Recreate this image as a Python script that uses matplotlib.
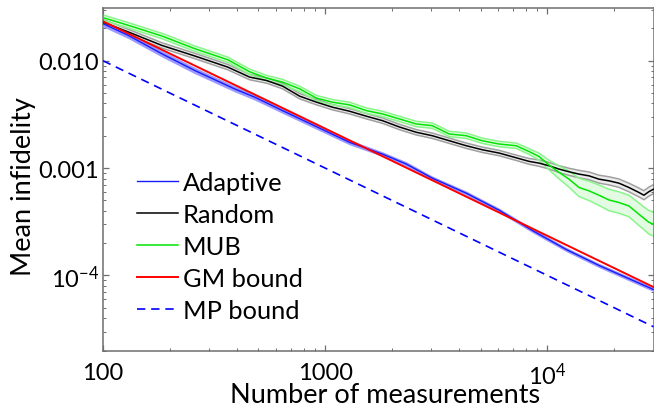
import matplotlib
matplotlib.use("Agg")
import matplotlib.pyplot as plt
import numpy as np
from matplotlib.ticker import FixedLocator, FixedFormatter, LogLocator, NullFormatter

plt.rcParams['font.family'] = ['Lato', 'DejaVu Sans']
plt.rcParams['mathtext.fontset'] = 'custom'
plt.rcParams['mathtext.rm'] = 'Lato'
plt.rcParams['mathtext.it'] = 'Lato:italic'
plt.rcParams['mathtext.bf'] = 'Lato:bold'

# ---- data: mean infidelity vs number of measurements ----
n_adaptive = [100, 130, 184, 259, 391, 482, 643, 914, 1286, 1809, 2318, 3032,
              4311, 6062, 8527, 12120, 17050, 30000]
adaptive = [0.02218, 0.01723, 0.01162, 0.00811, 0.00547, 0.004578, 0.003431,
            0.002432, 0.001739, 0.001351, 0.001090, 0.000806, 0.000584,
            0.000405, 0.0002634, 0.0001750, 0.0001240, 7.40e-5]
# half-width of the spread band, in decades
adaptive_spread = [0.03, 0.03, 0.03, 0.03, 0.028, 0.028, 0.026, 0.025, 0.024,
                   0.022, 0.022, 0.02, 0.02, 0.02, 0.02, 0.02, 0.02, 0.02]

n_meas = [100, 130, 184, 259, 364, 457, 545, 643, 767, 914, 1078, 1286, 1533,
          1809, 2156, 2570, 3032, 3615, 4311, 5085, 6062, 7228, 8268, 9168,
          10170, 11280, 12500, 13870, 15380, 17050, 18910, 20970, 23250,
          25790, 27160, 28590, 30000]
random_inf = [0.02290, 0.01854, 0.01390, 0.01107, 0.008732, 0.007043, 0.006545,
              0.005801, 0.004679, 0.004112, 0.003693, 0.003388, 0.003042,
              0.002767, 0.002416, 0.002156, 0.002003, 0.001799, 0.001616,
              0.001483, 0.001381, 0.001248, 0.001155, 0.001113, 0.001051,
              0.000979, 0.000924, 0.000879, 0.000847, 0.000789, 0.000761,
              0.000724, 0.000660, 0.000593, 0.000559, 0.000603, 0.000636]
random_spread = [0.025] * 22 + [0.027, 0.03, 0.03, 0.032, 0.033, 0.035, 0.036,
                                0.037, 0.038, 0.039, 0.04, 0.041, 0.042,
                                0.042, 0.042]
mub_inf = [0.02522, 0.02138, 0.01701, 0.01295, 0.01022, 0.007889, 0.006894,
           0.006323, 0.005473, 0.004482, 0.004112, 0.003880, 0.003431,
           0.003196, 0.002870, 0.002577, 0.002485, 0.002079, 0.002003,
           0.001799, 0.001676, 0.001616, 0.001426, 0.001281, 0.001067,
           0.000912, 0.000789, 0.000660, 0.000614, 0.000559, 0.000505,
           0.000478, 0.000444, 0.000372, 0.000341, 0.000313, 0.000300]
mub_spread = [0.025] * 22 + [0.027, 0.032, 0.045, 0.06, 0.075, 0.085, 0.09,
                             0.095, 0.1, 0.1, 0.1, 0.105, 0.105, 0.11, 0.11]

bound_n = [100, 30000]
gm_bound = [0.0233, 7.8e-5]
mp_bound = [0.01, 3.33e-5]

x_ticks = [100, 1000, 10000]
x_tick_labels = ['100', '1000', r'$10^{4}$']
y_ticks = [1e-4, 1e-3, 1e-2]
y_tick_labels = [r'$10^{-4}$', '0.001', '0.010']


def band(values, spread):
    v = np.asarray(values)
    s = np.asarray(spread)
    return v * 10 ** (-s), v * 10 ** s


fig = plt.figure(figsize=(6.54, 4.10), dpi=100)
ax = fig.add_axes([103 / 654, 58.5 / 410, 550.5 / 654, 342.5 / 410])
ax.set_xscale('log')
ax.set_yscale('log')

# spread bands
lo, hi = band(random_inf, random_spread)
ax.fill_between(n_meas, lo, hi, color='#ececec', lw=0, zorder=1)
ax.plot(n_meas, lo, color='#a0a0a0', lw=1.1, zorder=2)
ax.plot(n_meas, hi, color='#a0a0a0', lw=1.1, zorder=2)

lo, hi = band(mub_inf, mub_spread)
ax.fill_between(n_meas, lo, hi, color='#e3fbe3', lw=0, zorder=1)
ax.plot(n_meas, lo, color='#8af58a', lw=1.1, zorder=2)
ax.plot(n_meas, hi, color='#8af58a', lw=1.1, zorder=2)

lo, hi = band(adaptive, adaptive_spread)
ax.fill_between(n_adaptive, lo, hi, color='#9a9aff', lw=0, zorder=3)

# central curves
ax.plot(n_adaptive, adaptive, color='#1a1aff', lw=1.0, zorder=4, label='Adaptive')
ax.plot(n_meas, random_inf, color='black', lw=1.1, zorder=4, label='Random')
ax.plot(n_meas, mub_inf, color='#00e600', lw=1.1, zorder=4, label='MUB')
ax.plot(bound_n, gm_bound, color='#ff0000', lw=1.4, zorder=5, label='GM bound')
ax.plot(bound_n, mp_bound, color='#0000ff', lw=1.2, ls=(0, (5, 3.5)), zorder=5,
        label='MP bound')

ax.set_xlim(100, 30000)
ax.set_ylim(2e-5, 0.031)

ax.xaxis.set_major_locator(FixedLocator(x_ticks))
ax.xaxis.set_major_formatter(FixedFormatter(x_tick_labels))
ax.yaxis.set_major_locator(FixedLocator(y_ticks))
ax.yaxis.set_major_formatter(FixedFormatter(y_tick_labels))
ax.xaxis.set_minor_locator(LogLocator(base=10, subs=np.arange(2, 10)))
ax.yaxis.set_minor_locator(LogLocator(base=10, subs=np.arange(2, 10)))
ax.xaxis.set_minor_formatter(NullFormatter())
ax.yaxis.set_minor_formatter(NullFormatter())

frame = '#6e6e6e'
for sp in ax.spines.values():
    sp.set_color(frame)
    sp.set_linewidth(1.1)
ax.tick_params(which='both', direction='in', top=True, right=True,
               color=frame, labelsize=17, labelcolor='black')
ax.tick_params(which='major', length=4.5, width=0.9)
ax.tick_params(which='minor', length=2.4, width=0.7)
ax.tick_params(axis='x', which='major', pad=8)
ax.tick_params(axis='y', which='major', pad=3)

ax.set_xlabel('Number of measurements', fontsize=19.5)
ax.set_ylabel('Mean infidelity', fontsize=19.5)
ax.xaxis.set_label_coords(0.512, -0.092)
ax.yaxis.set_label_coords(-0.122, 0.483)

leg = ax.legend(loc='upper left', bbox_to_anchor=(0.043, 0.553), frameon=False,
                fontsize=18.3, handlelength=1.6, handletextpad=0.22,
                labelspacing=0.35, borderaxespad=0)

fig.savefig('out.png', dpi=100)
